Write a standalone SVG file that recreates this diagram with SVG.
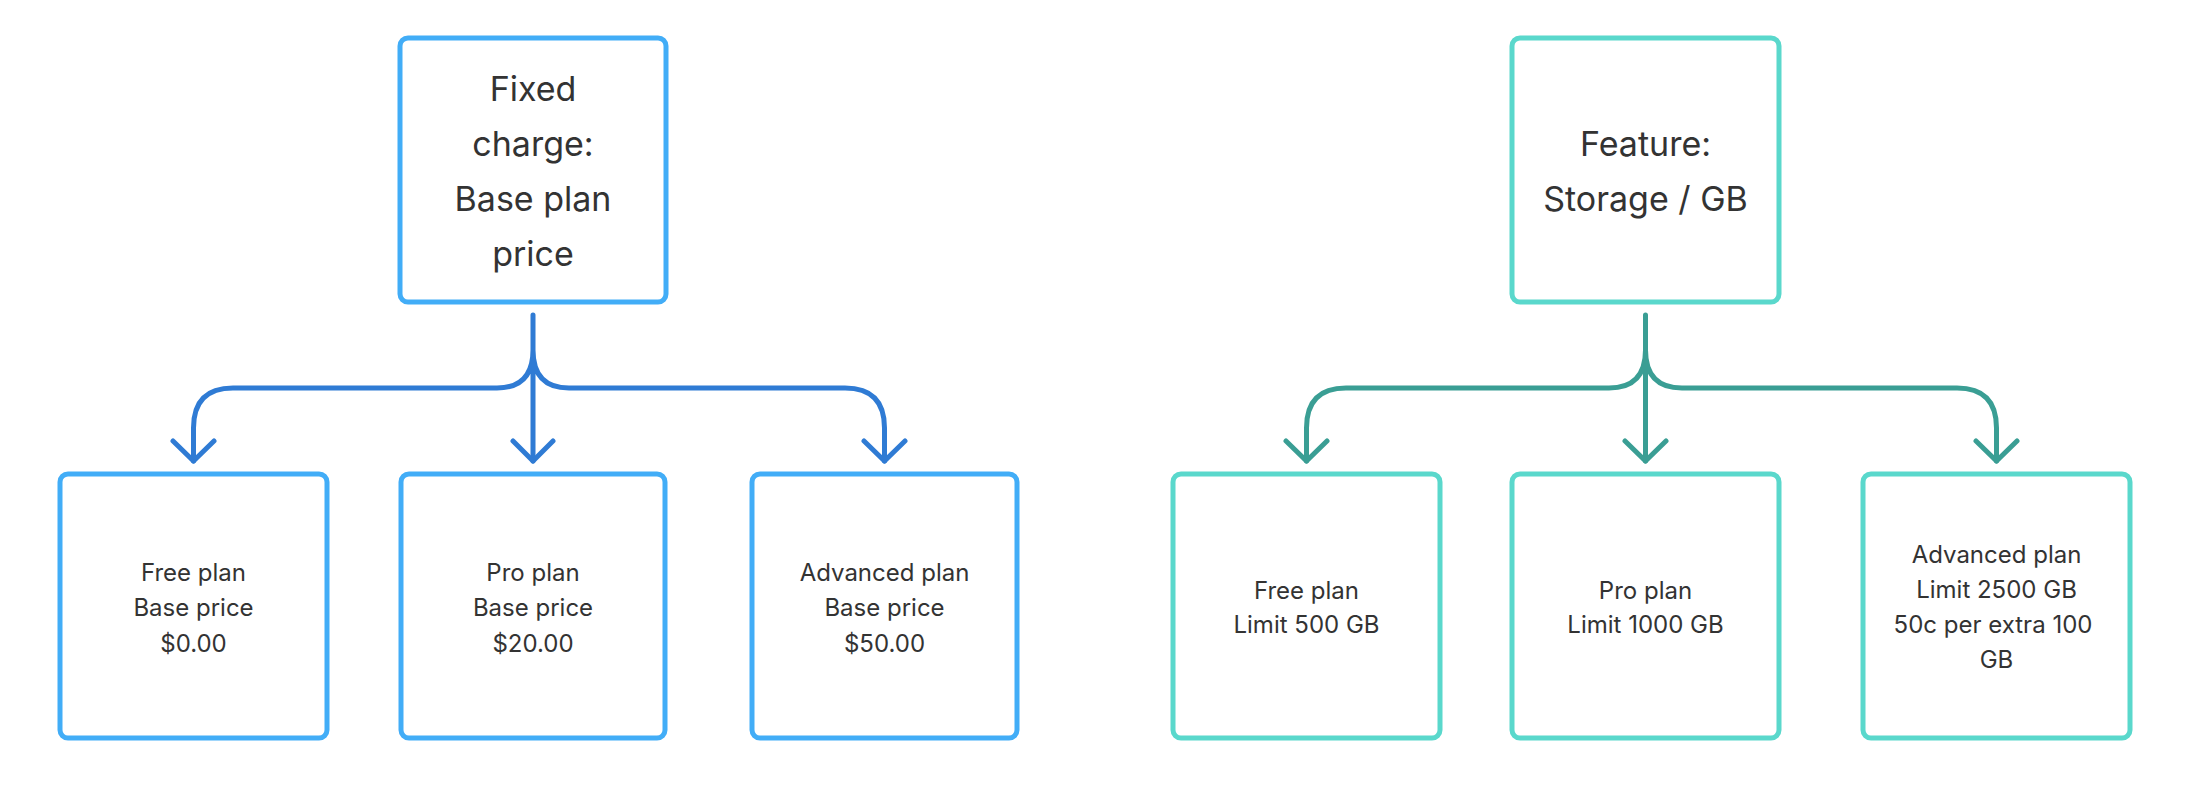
<svg xmlns="http://www.w3.org/2000/svg" width="2200" height="798" viewBox="0 0 2200 798">
<style>
.bb{fill:#fff;stroke:#42adf7;stroke-width:5}
.gb{fill:#fff;stroke:#5ad8cc;stroke-width:5}
.bl{fill:none;stroke:#2f7bd4;stroke-width:5;stroke-linecap:round;stroke-linejoin:round}
.gl{fill:none;stroke:#3a9e94;stroke-width:5;stroke-linecap:round;stroke-linejoin:round}
text{font-family:Inter,"Noto Sans",sans-serif;fill:#333;text-anchor:middle;dominant-baseline:central}
.big{font-size:34px}
.sm{font-size:24px}
</style>
<rect width="2200" height="798" fill="#fff"/>
<g id="fixed"><rect class="bb" x="400" y="38" width="266" height="264" rx="8"/>
<text class="big" x="533" y="88">Fixed</text><text class="big" x="533" y="143">charge:</text><text class="big" x="533" y="198">Base plan</text><text class="big" x="533" y="253">price</text></g>
<g id="free1"><rect class="bb" x="60" y="474" width="267" height="264" rx="8"/>
<text class="sm" x="193.5" y="572">Free plan</text><text class="sm" x="193.5" y="607">Base price</text><text class="sm" x="193.5" y="643">$0.00</text></g>
<g id="pro1"><rect class="bb" x="401" y="474" width="264" height="264" rx="8"/>
<text class="sm" x="533" y="572">Pro plan</text><text class="sm" x="533" y="607">Base price</text><text class="sm" x="533" y="643">$20.00</text></g>
<g id="adv1"><rect class="bb" x="752" y="474" width="265" height="264" rx="8"/>
<text class="sm" x="884.5" y="572">Advanced plan</text><text class="sm" x="884.5" y="607">Base price</text><text class="sm" x="884.5" y="643">$50.00</text></g>
<g id="feature"><rect class="gb" x="1512" y="38" width="267" height="264" rx="8"/>
<text class="big" x="1645.5" y="143">Feature:</text><text class="big" x="1645.5" y="198">Storage / GB</text></g>
<g id="free2"><rect class="gb" x="1173" y="474" width="267" height="264" rx="8"/>
<text class="sm" x="1306.5" y="590">Free plan</text><text class="sm" x="1306.5" y="624">Limit 500 GB</text></g>
<g id="pro2"><rect class="gb" x="1512" y="474" width="267" height="264" rx="8"/>
<text class="sm" x="1645.5" y="590">Pro plan</text><text class="sm" x="1645.5" y="624">Limit 1000 GB</text></g>
<g id="adv2"><rect class="gb" x="1863" y="474" width="267" height="264" rx="8"/>
<text class="sm" x="1996.5" y="554">Advanced plan</text><text class="sm" x="1996.5" y="589">Limit 2500 GB</text><text class="sm" x="1993" y="624">50c per extra 100</text><text class="sm" x="1996.5" y="659">GB</text></g>
<g id="connectors">
<path class="bl" d="M533,315 V461 M533,350 Q533,388 497,388 H233 Q193.5,388 193.5,428 V461 M533,350 Q533,388 569,388 H845 Q884.5,388 884.5,428 V461"/>
<path class="bl" d="M173,441 L193.5,461 L214,441 M513,441 L533,461 L553,441 M864,441 L884.5,461 L905,441"/>
<path class="gl" d="M1645.5,315 V461 M1645.5,350 Q1645.5,388 1609,388 H1346 Q1306.5,388 1306.5,428 V461 M1645.5,350 Q1645.5,388 1682,388 H1957 Q1996.5,388 1996.5,428 V461"/>
<path class="gl" d="M1286,441 L1306.5,461 L1327,441 M1625,441 L1645.5,461 L1666,441 M1976,441 L1996.5,461 L2017,441"/>
</g>
</svg>
